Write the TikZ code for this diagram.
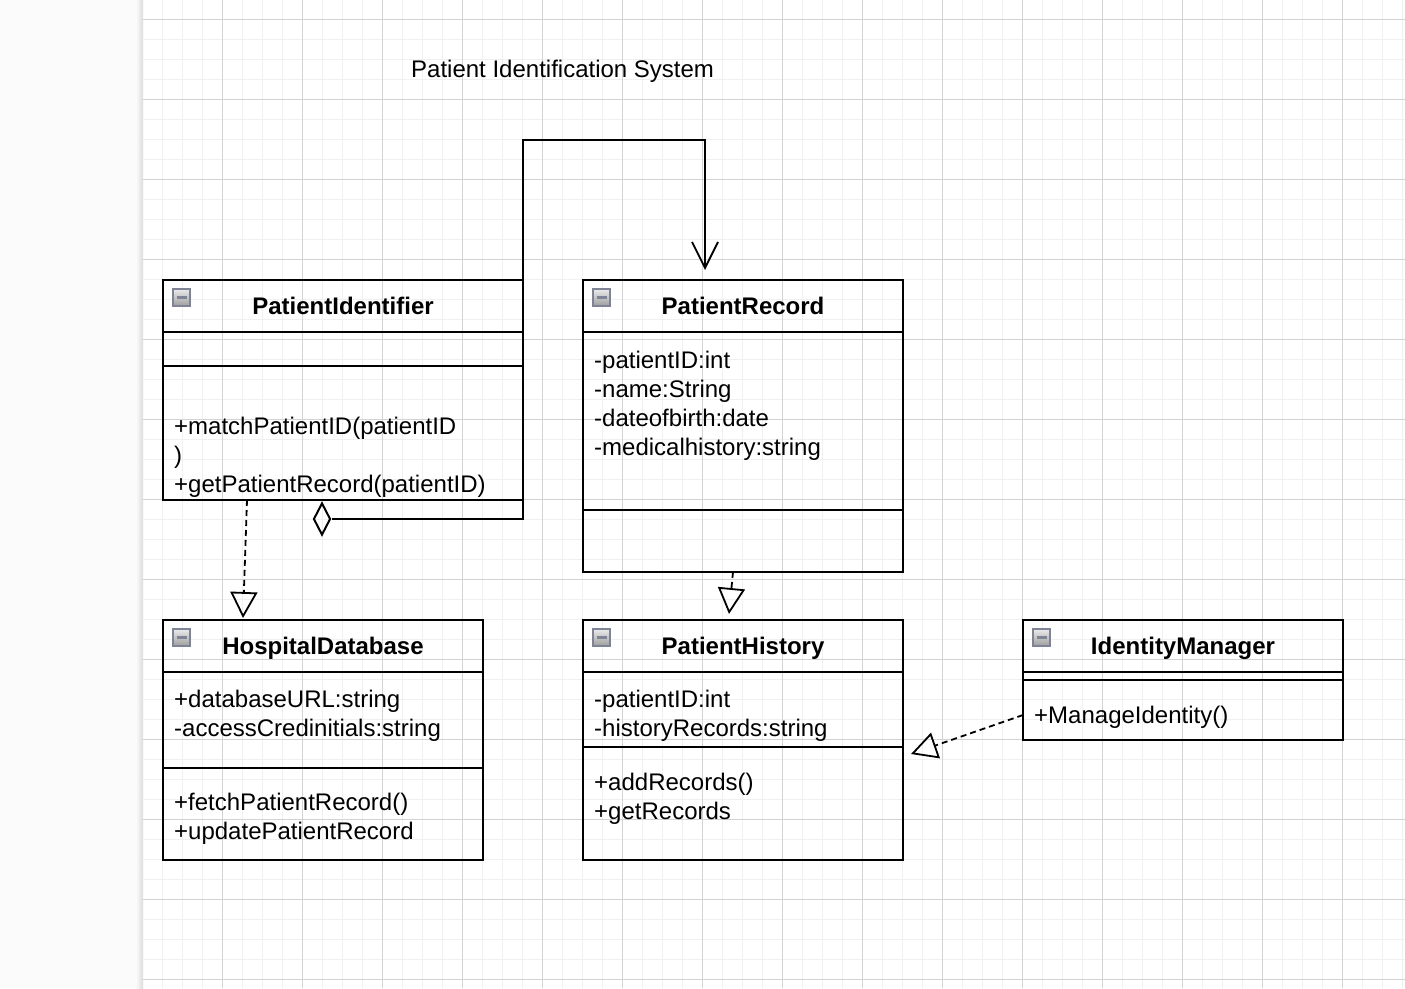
\documentclass[tikz,border=0pt]{standalone}
\usepackage{fontspec}
\setmainfont{Liberation Sans}
\usetikzlibrary{calc,arrows.meta,shapes.geometric}
\definecolor{gridminor}{HTML}{F0F0F0}
\definecolor{gridmajor}{HTML}{D3D3D3}
\definecolor{sidepanel}{HTML}{FBFBFB}
\definecolor{foldedge}{HTML}{7E8496}
\tikzset{
  classbox/.style={draw, line width=2pt, anchor=north west, inner sep=0pt, outer sep=0pt},
  classname/.style={font=\fontsize{24}{29}\selectfont\bfseries, anchor=base, inner sep=0pt},
  member/.style={font=\fontsize{24}{29}\selectfont, align=left, anchor=base west, inner sep=0pt},
  divider/.style={line width=2pt},
  foldicon/.style={draw=foldedge, line width=2pt, minimum size=17pt, inner sep=0pt,
    top color=white!92!black, bottom color=white!62!black,
    path picture={\draw[line width=2.5pt] ($(path picture bounding box.west)+(3.5pt,0pt)$) -- ($(path picture bounding box.east)+(-3.5pt,0pt)$);}},
  realize/.style={line width=1.8pt, dash pattern=on 6pt off 4pt,
    -{Triangle[open, length=26pt, width=27pt, line width=1.8pt]}},
  assoc/.style={line width=2pt, -{Straight Barb[length=26pt, width=26pt, line width=1.8pt]}},
  aggdiamond/.style={diamond, draw, line width=2pt, minimum width=17pt, minimum height=32pt, inner sep=0pt}
}
\begin{document}
\begin{tikzpicture}[x=1pt, y=-1pt]
  \useasboundingbox (0,0) rectangle (1405,988);
  % canvas
  \fill[white] (0,0) rectangle (1405,988);
  \fill[sidepanel] (0,0) rectangle (142,988);
  \shade[left color=sidepanel, right color=black!14] (136,0) rectangle (143,988);
  \foreach \gx in {162,182,...,1402} \draw[gridminor, line width=1pt] (\gx,0) -- (\gx,988);
  \foreach \gy in {19.5,39.5,...,980} \draw[gridminor, line width=1pt] (143,\gy) -- (1405,\gy);
  \foreach \gx in {222,302,...,1342} \draw[gridmajor, line width=1pt] (\gx,0) -- (\gx,988);
  \foreach \gy in {19.5,99.5,...,980} \draw[gridmajor, line width=1pt] (143,\gy) -- (1405,\gy);

  \node[member] (title) at (411,77) {Patient Identification System};

  % classes
  \node[classbox, minimum width=360pt, minimum height=220pt] (ident) at (163,280) {};
  \node[classbox, minimum width=320pt, minimum height=292pt] (record) at (583,280) {};
  \node[classbox, minimum width=320pt, minimum height=240pt] (hospital) at (163,620) {};
  \node[classbox, minimum width=320pt, minimum height=240pt] (history) at (583,620) {};
  \node[classbox, minimum width=320pt, minimum height=120pt] (identity) at (1023,620) {};

  \node[classname] (ident-name) at ($(ident.north)+(0,34)$) {PatientIdentifier};
  \node[classname] (record-name) at ($(record.north)+(0,34)$) {PatientRecord};
  \node[classname] (hospital-name) at ($(hospital.north)+(0,34)$) {HospitalDatabase};
  \node[classname] (history-name) at ($(history.north)+(0,34)$) {PatientHistory};
  \node[classname] (identity-name) at ($(identity.north)+(0,34)$) {IdentityManager};

  \node[foldicon] (ident-fold) at ($(ident.north west)+(18.5,17.5)$) {};
  \node[foldicon] (record-fold) at ($(record.north west)+(18.5,17.5)$) {};
  \node[foldicon] (hospital-fold) at ($(hospital.north west)+(18.5,17.5)$) {};
  \node[foldicon] (history-fold) at ($(history.north west)+(18.5,17.5)$) {};
  \node[foldicon] (identity-fold) at ($(identity.north west)+(18.5,17.5)$) {};

  \draw[divider] ($(ident.north west)+(0,52)$) -- ($(ident.north east)+(0,52)$);
  \draw[divider] ($(ident.north west)+(0,86)$) -- ($(ident.north east)+(0,86)$);
  \draw[divider] ($(record.north west)+(0,52)$) -- ($(record.north east)+(0,52)$);
  \draw[divider] ($(record.north west)+(0,230)$) -- ($(record.north east)+(0,230)$);
  \draw[divider] ($(hospital.north west)+(0,52)$) -- ($(hospital.north east)+(0,52)$);
  \draw[divider] ($(hospital.north west)+(0,148)$) -- ($(hospital.north east)+(0,148)$);
  \draw[divider] ($(history.north west)+(0,52)$) -- ($(history.north east)+(0,52)$);
  \draw[divider] ($(history.north west)+(0,127)$) -- ($(history.north east)+(0,127)$);
  \draw[divider] ($(identity.north west)+(0,52)$) -- ($(identity.north east)+(0,52)$);
  \draw[divider] ($(identity.north west)+(0,60)$) -- ($(identity.north east)+(0,60)$);

  % member texts (base = last line)
  \node[member] (ident-ops) at ($(ident.north west)+(11,212)$) {+matchPatientID(patientID\\)\\+getPatientRecord(patientID)};
  \node[member] (record-attrs) at ($(record.north west)+(11,175)$) {-patientID:int\\-name:String\\-dateofbirth:date\\-medicalhistory:string};
  \node[member] (hospital-attrs) at ($(hospital.north west)+(11,116)$) {+databaseURL:string\\-accessCredinitials:string};
  \node[member] (hospital-ops) at ($(hospital.north west)+(11,219)$) {+fetchPatientRecord()\\+updatePatientRecord};
  \node[member] (history-attrs) at ($(history.north west)+(11,116)$) {-patientID:int\\-historyRecords:string};
  \node[member] (history-ops) at ($(history.north west)+(11,199)$) {+addRecords()\\+getRecords};
  \node[member] (identity-ops) at ($(identity.north west)+(11,103)$) {+ManageIdentity()};

  % relations
  \coordinate (record-in) at ($(record.north west)+(122,-10)$);
  \draw[assoc] (ident.north east) -- ++(0,-140) -| (record-in);

  \node[aggdiamond] (agg) at ($(ident.south west)+(159,19)$) {};
  \draw[divider] (agg.east) -| (ident.south east);

  \coordinate (ident-out) at ($(ident.south west)+(84,0)$);
  \coordinate (hospital-in) at ($(hospital.north west)+(80,-2)$);
  \draw[realize] (ident-out) -- (hospital-in);

  \coordinate (record-out) at ($(record.south west)+(150,0)$);
  \coordinate (history-in) at ($(history.north west)+(146,-6)$);
  \draw[realize] (record-out) -- (history-in);

  \coordinate (identity-out) at ($(identity.south west)+(0,-25)$);
  \coordinate (history-side) at ($(history.east)+(8,14)$);
  \draw[realize] (identity-out) -- (history-side);
\end{tikzpicture}
\end{document}
